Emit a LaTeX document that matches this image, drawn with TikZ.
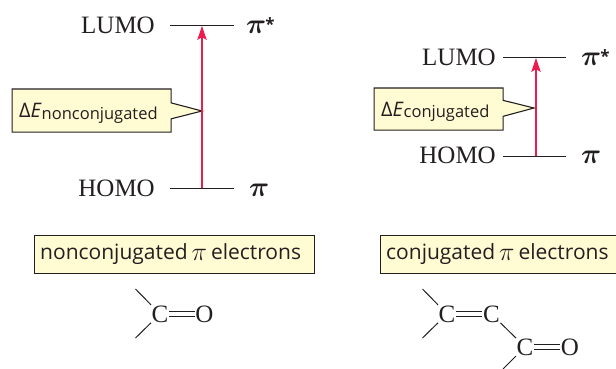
\RequirePackage{fix-cm}
\documentclass[tikz,border=0pt]{standalone}
\usepackage{fontspec}
\setmainfont{Liberation Serif}
\newfontfamily\labelsans{Open Sans}
\usetikzlibrary{shapes.callouts,arrows.meta}
\definecolor{ink}{HTML}{231F20}
\definecolor{pale}{HTML}{FFFBD2}
\definecolor{arrowred}{HTML}{EC1C4E}
\newcommand{\bigpi}{{\fontsize{28}{28}\selectfont\boldmath$\pi$}}
\newcommand{\bigaster}{\kern-1pt\raisebox{3pt}{\labelsans\bfseries\fontsize{17}{17}\selectfont *}}
\newcommand{\headpi}{\hspace{4pt}\raisebox{-0.5pt}{\fontsize{26}{26}\selectfont$\pi$}\hspace{4pt}}
\newcommand{\deltatext}[1]{\labelsans\fontsize{20}{20}\selectfont Δ\textit{E}\raisebox{-1.5pt}{\fontsize{16.5}{16.5}\selectfont #1}}
\tikzset{
 x=1pt,y=-1pt,
 level/.style={draw=ink,line width=1pt},
 orb/.style={inner sep=0pt,text=ink,font=\fontsize{25}{25}\selectfont,anchor=base east},
 sym/.style={inner sep=0pt,text=ink,anchor=base west},
 atom/.style={inner sep=0.5pt,text=ink,font=\fontsize{25}{25}\selectfont},
 bond/.style={draw=ink,line width=1pt},
 excite/.style={draw=arrowred,line width=1.1pt,-{Stealth[length=14pt,width=9.5pt,inset=3pt]}},
 tag/.style={rectangle callout,draw=ink,fill=pale,line width=1.1pt,inner sep=0pt,anchor=north west,callout pointer width=16pt},
 tagtext/.style={inner sep=0pt,anchor=base west,text=ink},
 headbox/.style={rectangle,draw=ink,fill=pale,line width=1.1pt,inner sep=0pt,anchor=north west,minimum height=38pt},
 headtext/.style={inner sep=0pt,anchor=base west,text=ink,font=\labelsans\fontsize{21}{22}\selectfont}
}
\begin{document}
\begin{tikzpicture}
\useasboundingbox (0,0) rectangle (616,369);
% left diagram
\coordinate (lla) at (170,26); \coordinate (llb) at (234,26); \coordinate (llm) at (202,26);
\coordinate (lha) at (170,188); \coordinate (lhb) at (234,188); \coordinate (lhm) at (202,188);
\coordinate (ltip) at (202,111);
\draw[level] (lla) -- (llb);
\draw[level] (lha) -- (lhb);
\node[tag,minimum width=159pt,minimum height=43pt,callout absolute pointer={(ltip)}] (ltag) at (11.5,88.5) {};
\draw[excite] (lhm) -- (llm);
\node[orb] (llumo) at (155,33.5) {LUMO};
\node[orb] (lhomo) at (155,196.5) {HOMO};
\node[sym] (lpis) at (246,33.5) {\bigpi\bigaster};
\node[sym] (lpi) at (249,196.5) {\bigpi};
\node[tagtext] (ltxt) at (19,117.5) {\deltatext{nonconjugated}};
% right diagram
\coordinate (rla) at (503,58); \coordinate (rlb) at (566,58); \coordinate (rlm) at (536,58);
\coordinate (rha) at (503,156); \coordinate (rhb) at (566,156); \coordinate (rhm) at (536,156);
\coordinate (rtip) at (534,108);
\draw[level] (rla) -- (rlb);
\draw[level] (rha) -- (rhb);
\node[tag,minimum width=129pt,minimum height=42pt,callout absolute pointer={(rtip)}] (rtag) at (373.5,87.5) {};
\draw[excite] (rhm) -- (rlm);
\node[orb] (rlumo) at (496,65.5) {LUMO};
\node[orb] (rhomo) at (496,163.5) {HOMO};
\node[sym] (rpis) at (581,65.5) {\bigpi\bigaster};
\node[sym] (rpi) at (581,163.5) {\bigpi};
\node[tagtext] (rtxt) at (381,116.5) {\deltatext{conjugated}};
% headings
\node[headbox,minimum width=280pt] (lhead) at (33.5,234.5) {};
\node[headbox,minimum width=245pt] (rhead) at (379.5,234.5) {};
\node[headtext] (ltitle) at (40,259.5) {nonconjugated\headpi electrons};
\node[headtext] (rtitle) at (386,259.5) {conjugated\headpi electrons};
% left molecule
\node[atom] (c0) at (160,314) {C};
\node[atom] (o0) at (204.5,314) {O};
\coordinate (l1) at (135.5,289); \coordinate (l2) at (135.5,338);
\draw[bond] (l1) -- (c0); \draw[bond] (l2) -- (c0);
\draw[bond] ([yshift=-2.2pt]c0.east) -- ([yshift=-2.2pt]o0.west);
\draw[bond] ([yshift=2.2pt]c0.east) -- ([yshift=2.2pt]o0.west);
% right molecule
\node[atom] (c1) at (447,314) {C};
\node[atom] (c2) at (491.5,314) {C};
\node[atom] (c3) at (525,347) {C};
\node[atom] (o1) at (570,347) {O};
\coordinate (r1) at (422.5,289); \coordinate (r2) at (422.5,338); \coordinate (r3) at (503,369);
\draw[bond] (r1) -- (c1); \draw[bond] (r2) -- (c1);
\draw[bond] ([yshift=-2.2pt]c1.east) -- ([yshift=-2.2pt]c2.west);
\draw[bond] ([yshift=2.2pt]c1.east) -- ([yshift=2.2pt]c2.west);
\draw[bond] (c2) -- (c3);
\draw[bond] (r3) -- (c3);
\draw[bond] ([yshift=-2.2pt]c3.east) -- ([yshift=-2.2pt]o1.west);
\draw[bond] ([yshift=2.2pt]c3.east) -- ([yshift=2.2pt]o1.west);
\end{tikzpicture}
\end{document}
